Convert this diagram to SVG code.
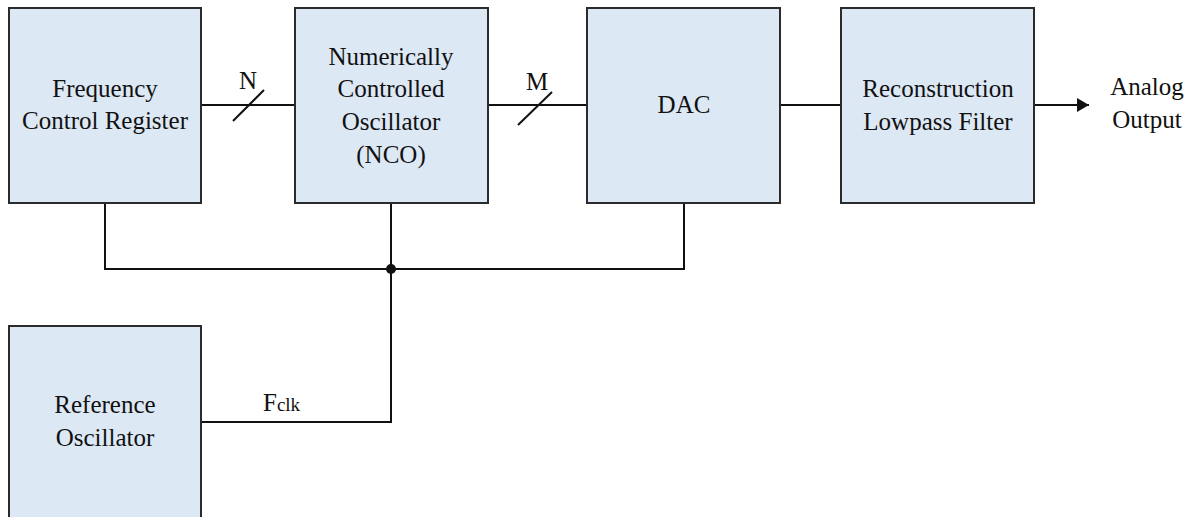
<svg xmlns="http://www.w3.org/2000/svg" width="1193" height="517" viewBox="0 0 1193 517">
  <defs>
    <style>
      .box { fill: #dde8f5; stroke: #2b2b2b; stroke-width: 2; }
      .lbl { font-family: "Liberation Serif", "Times New Roman", serif; font-size: 25px; fill: #111; text-anchor: middle; }
      .wire { fill: none; stroke: #111; stroke-width: 2; }
    </style>
    <marker id="arrow" viewBox="0 0 12 14" refX="12" refY="7" markerWidth="12" markerHeight="14" markerUnits="userSpaceOnUse" orient="auto">
      <path d="M0,0 L12,7 L0,14 Z" fill="#111"/>
    </marker>
  </defs>
  <rect width="1193" height="517" fill="#ffffff"/>

  <!-- connectors -->
  <g id="connectors">
    <line class="wire" x1="201" y1="105" x2="295" y2="105"/>
    <line class="wire" x1="233" y1="121" x2="264" y2="90"/>
    <text class="lbl" x="248" y="89">N</text>

    <line class="wire" x1="488" y1="105" x2="587" y2="105"/>
    <line class="wire" x1="518" y1="125" x2="552" y2="92"/>
    <text class="lbl" x="537" y="90">M</text>

    <line class="wire" x1="780" y1="105" x2="841" y2="105"/>
    <line class="wire" x1="1034" y1="105" x2="1089" y2="105" marker-end="url(#arrow)"/>
    <text class="lbl" x="1147" y="95">Analog</text>
    <text class="lbl" x="1147" y="128">Output</text>

    <!-- clock distribution -->
    <polyline class="wire" points="105,203 105,269 684,269 684,203"/>
    <polyline class="wire" points="391,203 391,422 201,422"/>
    <circle cx="391" cy="269" r="5" fill="#111"/>
    <text x="263" y="411" font-family="Liberation Serif, serif" fill="#111"><tspan font-size="25">F</tspan><tspan font-size="19">clk</tspan></text>
  </g>

  <g id="freq-control-register">
    <rect class="box" x="9" y="8" width="192" height="195"/>
    <text class="lbl" x="105" y="97">Frequency</text>
    <text class="lbl" x="105" y="129">Control Register</text>
  </g>

  <g id="nco">
    <rect class="box" x="295" y="8" width="193" height="195"/>
    <text class="lbl" x="391" y="65">Numerically</text>
    <text class="lbl" x="391" y="97">Controlled</text>
    <text class="lbl" x="391" y="130">Oscillator</text>
    <text class="lbl" x="391" y="163">(NCO)</text>
  </g>

  <g id="dac">
    <rect class="box" x="587" y="8" width="193" height="195"/>
    <text class="lbl" x="684" y="113">DAC</text>
  </g>

  <g id="lowpass-filter">
    <rect class="box" x="841" y="8" width="193" height="195"/>
    <text class="lbl" x="938" y="97">Reconstruction</text>
    <text class="lbl" x="938" y="130">Lowpass Filter</text>
  </g>

  <g id="reference-oscillator">
    <rect class="box" x="9" y="326" width="192" height="220"/>
    <text class="lbl" x="105" y="413">Reference</text>
    <text class="lbl" x="105" y="446">Oscillator</text>
  </g>
</svg>
